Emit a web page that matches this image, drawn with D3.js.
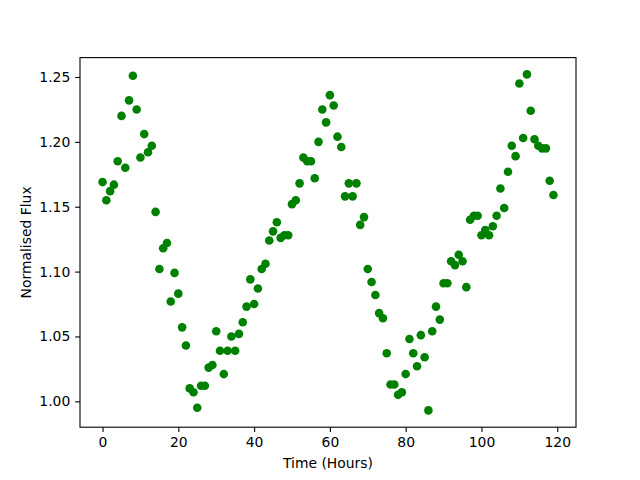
<!DOCTYPE html>
<html>
<head>
<meta charset="utf-8">
<script src="https://cdn.jsdelivr.net/npm/d3@7"></script>
<style>
  body { margin: 0; background: #fff; }
  text { font-family: "DejaVu Sans", sans-serif; fill: #000; }
</style>
</head>
<body>
<svg id="chart"></svg>
<script>
// hourly samples, 0..119
const hours = d3.range(0, 120);
const flux = [
    1.169, 1.155, 1.162, 1.167, 1.185, 1.220, 1.180, 1.232, 1.251, 1.225,
    1.188, 1.206, 1.192, 1.197, 1.146, 1.102, 1.118, 1.122, 1.077, 1.099,
    1.083, 1.057, 1.043, 1.010, 1.007, 0.995, 1.012, 1.012, 1.026, 1.028,
    1.054, 1.039, 1.021, 1.039, 1.050, 1.039, 1.052, 1.061, 1.073, 1.094,
    1.075, 1.087, 1.102, 1.106, 1.124, 1.131, 1.138, 1.126, 1.128, 1.128,
    1.152, 1.155, 1.168, 1.188, 1.185, 1.185, 1.172, 1.200, 1.225, 1.215,
    1.236, 1.228, 1.204, 1.196, 1.158, 1.168, 1.158, 1.168, 1.136, 1.142,
    1.102, 1.092, 1.082, 1.068, 1.064, 1.037, 1.013, 1.013, 1.005, 1.007,
    1.021, 1.048, 1.037, 1.027, 1.051, 1.034, 0.993, 1.054, 1.073, 1.063,
    1.091, 1.091, 1.108, 1.105, 1.113, 1.108, 1.088, 1.140, 1.143, 1.143,
    1.128, 1.132, 1.128, 1.135, 1.143, 1.164, 1.149, 1.177, 1.197, 1.189,
    1.245, 1.203, 1.252, 1.224, 1.202, 1.197, 1.195, 1.195, 1.170, 1.159,
];
const xTicks = [0, 20, 40, 60, 80, 100, 120];
const yTicks = [1.00, 1.05, 1.10, 1.15, 1.20, 1.25];

const width = 640;
const height = 480;
const margin = { top: 57.6, right: 64, bottom: 52.8, left: 80 };

const svg = d3.select('#chart')
    .attr('width', width)
    .attr('height', height);

// matplotlib-style 5% padding around the data
const pad = (ext) => {
    const d = (ext[1] - ext[0]) * 0.05;
    return [ext[0] - d, ext[1] + d];
};

const x = d3.scaleLinear()
    .domain(pad(d3.extent(hours)))
    .range([margin.left, width - margin.right]);
const y = d3.scaleLinear()
    .domain(pad(d3.extent(flux)))
    .range([height - margin.bottom, margin.top]);

const tickLen = 4.86;
const fontPx = 13.9;

const xAxis = svg.append('g')
    .attr('transform', `translate(0,${height - margin.bottom})`)
    .call(d3.axisBottom(x).tickValues(xTicks).tickFormat(d3.format('d'))
        .tickSizeInner(tickLen).tickSizeOuter(0).tickPadding(4.9));
const yAxis = svg.append('g')
    .attr('transform', `translate(${margin.left},0)`)
    .call(d3.axisLeft(y).tickValues(yTicks).tickFormat(d3.format('.2f'))
        .tickSizeInner(tickLen).tickSizeOuter(0).tickPadding(4.9));

[xAxis, yAxis].forEach((g) => {
    g.select('.domain').remove();
    g.selectAll('line').attr('stroke', '#000').attr('stroke-width', 1.1);
    g.selectAll('text')
        .attr('font-family', '"DejaVu Sans", sans-serif')
        .attr('font-size', fontPx);
});

// frame
svg.append('rect')
    .attr('x', margin.left)
    .attr('y', margin.top)
    .attr('width', width - margin.left - margin.right)
    .attr('height', height - margin.top - margin.bottom)
    .attr('fill', 'none')
    .attr('stroke', '#000')
    .attr('stroke-width', 1.1);

svg.append('g')
    .selectAll('circle')
    .data(hours)
    .join('circle')
    .attr('cx', (d) => x(d))
    .attr('cy', (d, i) => y(flux[i]))
    .attr('r', 4.3)
    .attr('fill', 'green');

svg.append('text')
    .attr('x', (margin.left + width - margin.right) / 2)
    .attr('y', 468)
    .attr('text-anchor', 'middle')
    .attr('font-size', fontPx)
    .text('Time (Hours)');

svg.append('text')
    .attr('transform', `translate(31,${(margin.top + height - margin.bottom) / 2}) rotate(-90)`)
    .attr('text-anchor', 'middle')
    .attr('font-size', fontPx)
    .text('Normalised Flux');
</script>
</body>
</html>
